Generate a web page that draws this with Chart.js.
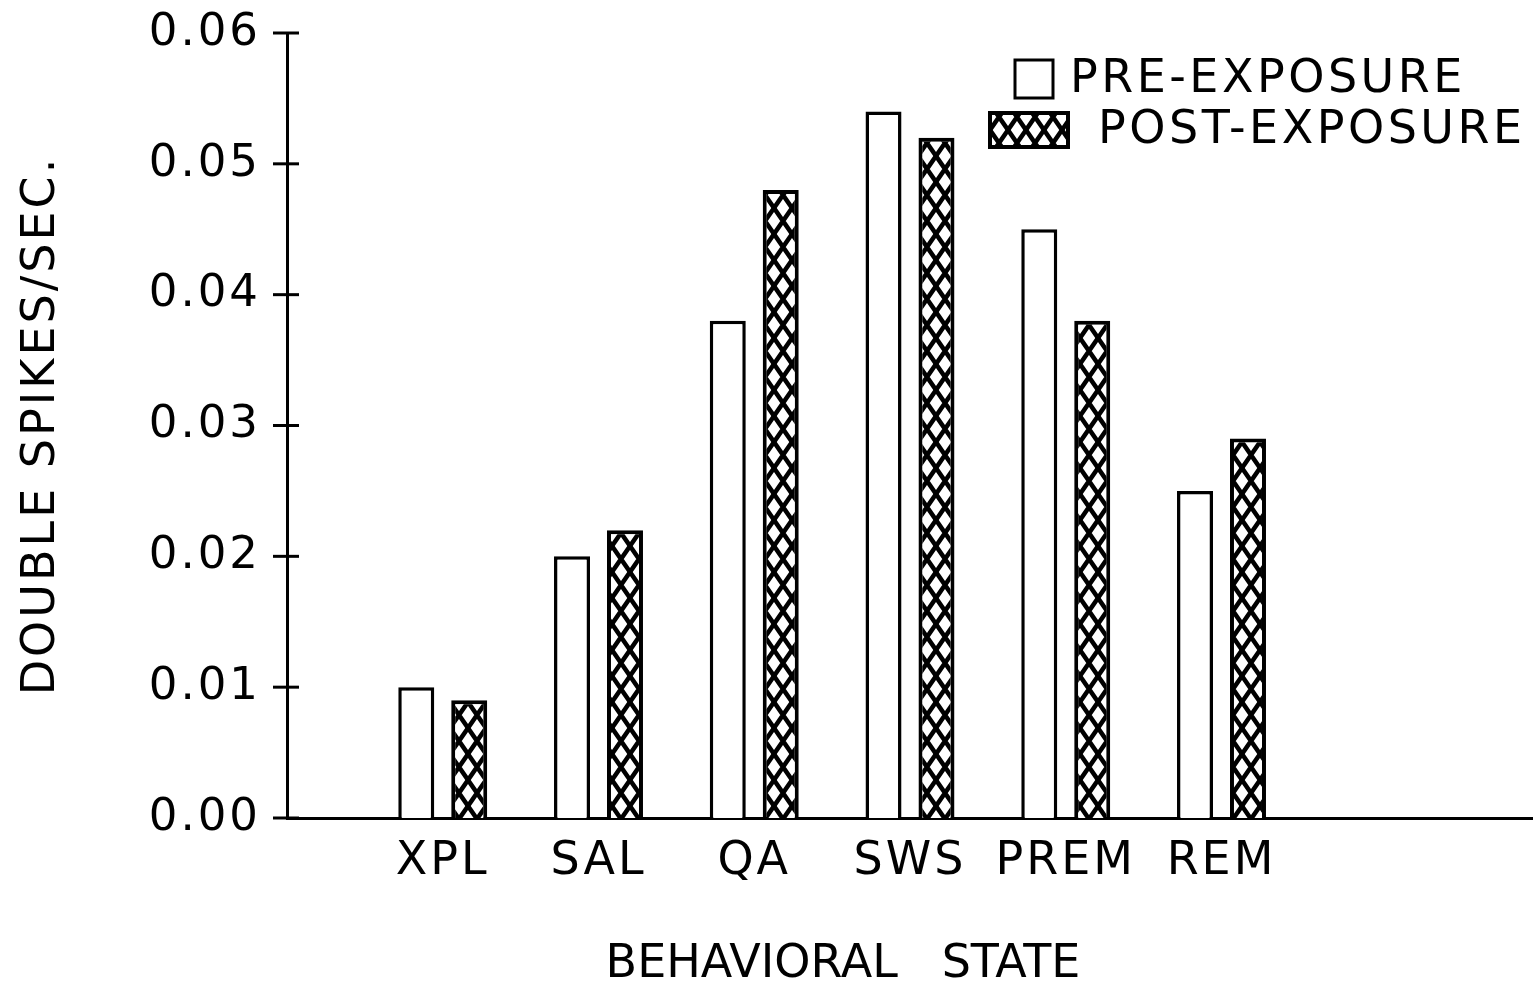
<!DOCTYPE html>
<html>
<head>
<meta charset="utf-8">
<script src="https://cdn.jsdelivr.net/npm/chart.js@4.4.1/dist/chart.umd.min.js"></script>
<style>
  html, body { margin: 0; padding: 0; background: #fff; }
  #box { width: 1533px; height: 988px; position: relative; }
</style>
</head>
<body>
<div id="box"><canvas id="grafica"></canvas></div>
<script>
(function () {
    // data
    const categories = ['XPL', 'SAL', 'QA', 'SWS', 'PREM', 'REM']
    const preExposure = [0.010, 0.020, 0.038, 0.054, 0.045, 0.025]
    const postExposure = [0.009, 0.022, 0.048, 0.052, 0.038, 0.029]
    const yTicks = [0.00, 0.01, 0.02, 0.03, 0.04, 0.05, 0.06]
    const seriesNames = ['PRE-EXPOSURE', 'POST-EXPOSURE']
    const xTitle = 'BEHAVIORAL   STATE'
    const yTitle = 'DOUBLE SPIKES/SEC.'

    const FONT = "'DejaVu Sans', sans-serif"

    // one empty slot before and two after, like the original axis
    const labels = ['', ...categories, '', '']
    const pad = arr => [null, ...arr, null, null]

    // cross hatch fill
    function hatch() {
        const w = 18, h = 26
        const c = document.createElement('canvas')
        c.width = w
        c.height = h
        const g = c.getContext('2d')
        g.fillStyle = '#fff'
        g.fillRect(0, 0, w, h)
        g.strokeStyle = '#000'
        g.lineWidth = 4.5
        for (let sx = -1; sx <= 1; sx++) {
            for (let sy = -1; sy <= 1; sy++) {
                const ox = sx * w, oy = sy * h
                g.beginPath()
                g.moveTo(ox, oy); g.lineTo(ox + w, oy + h)
                g.moveTo(ox + w, oy); g.lineTo(ox, oy + h)
                g.stroke()
            }
        }
        return g.createPattern(c, 'repeat')
    }
    const pattern = hatch()

    const extras = {
        id: 'extras',
        beforeDraw(chart) {
            chart.ctx.letterSpacing = '3px'
        },
        afterDraw(chart) {
            const ctx = chart.ctx
            const y = chart.scales.y
            const left = chart.chartArea.left
            ctx.save()
            // tick marks crossing the y axis
            ctx.strokeStyle = '#000'
            ctx.lineWidth = 3
            y.ticks.forEach(t => {
                const py = y.getPixelForValue(t.value)
                ctx.beginPath()
                ctx.moveTo(left - 14, py)
                ctx.lineTo(left + 12, py)
                ctx.stroke()
            })

            // x title, centred under the bars
            ctx.fillStyle = '#000'
            ctx.letterSpacing = '0px'
            ctx.font = '46px ' + FONT
            ctx.textAlign = 'center'
            ctx.textBaseline = 'middle'
            ctx.fillText(xTitle, 843, 965)

            // legend
            const ds = chart.data.datasets
            ctx.letterSpacing = '3.5px'
            ctx.font = '46px ' + FONT
            ctx.textAlign = 'left'
            ctx.lineWidth = 3
            ctx.fillStyle = '#fff'
            ctx.fillRect(1015, 60, 38, 38)
            ctx.strokeRect(1015, 60, 38, 38)
            ctx.fillStyle = '#000'
            ctx.fillText(ds[0].label, 1070, 80)

            ctx.fillStyle = pattern
            ctx.fillRect(990, 113, 78, 34)
            ctx.lineWidth = 4
            ctx.strokeRect(990, 113, 78, 34)
            ctx.fillStyle = '#000'
            ctx.fillText(ds[1].label, 1098, 131)
            ctx.restore()
        }
    }

    const ctx = document.getElementById('grafica').getContext('2d')
    new Chart(ctx, {
        type: 'bar',
        data: {
            labels: labels,
            datasets: [{
                label: seriesNames[0],
                data: pad(preExposure),
                backgroundColor: '#fff',
                borderColor: '#000',
                borderWidth: 3.5
            }, {
                label: seriesNames[1],
                data: pad(postExposure),
                backgroundColor: pattern,
                borderColor: '#000',
                borderWidth: 4
            }]
        },
        options: {
            responsive: true,
            maintainAspectRatio: false,
            animation: false,
            categoryPercentage: 0.68,
            barPercentage: 0.68,
            layout: { padding: { top: 33, left: 0, right: 0, bottom: 0 } },
            scales: {
                x: {
                    offset: false,
                    grid: { display: false, drawTicks: false },
                    border: { display: true, color: '#000', width: 3 },
                    ticks: {
                        color: '#000',
                        font: { family: FONT, size: 46 },
                        padding: 16,
                        autoSkip: false,
                        maxRotation: 0
                    },
                    afterFit: s => {
                        s.height = 170
                        s.paddingLeft = 0
                        s.paddingRight = 0
                    }
                },
                y: {
                    min: 0,
                    max: 0.06,
                    grid: { display: false, drawTicks: false },
                    border: { display: true, color: '#000', width: 3 },
                    ticks: {
                        color: '#000',
                        font: { family: FONT, size: 45 },
                        padding: 26,
                        callback: v => v.toFixed(2)
                    },
                    afterBuildTicks: s => { s.ticks = yTicks.map(v => ({ value: v })) },
                    title: {
                        display: true,
                        text: yTitle,
                        color: '#000',
                        font: { family: FONT, size: 46 },
                        padding: { top: 14, bottom: 0 }
                    },
                    afterFit: s => {
                        s.width = 287
                        s.paddingTop = 0
                        s.paddingBottom = 0
                    }
                }
            },
            plugins: {
                legend: { display: false },
                tooltip: { enabled: false }
            }
        },
        plugins: [extras]
    })
})();
</script>
</body>
</html>
